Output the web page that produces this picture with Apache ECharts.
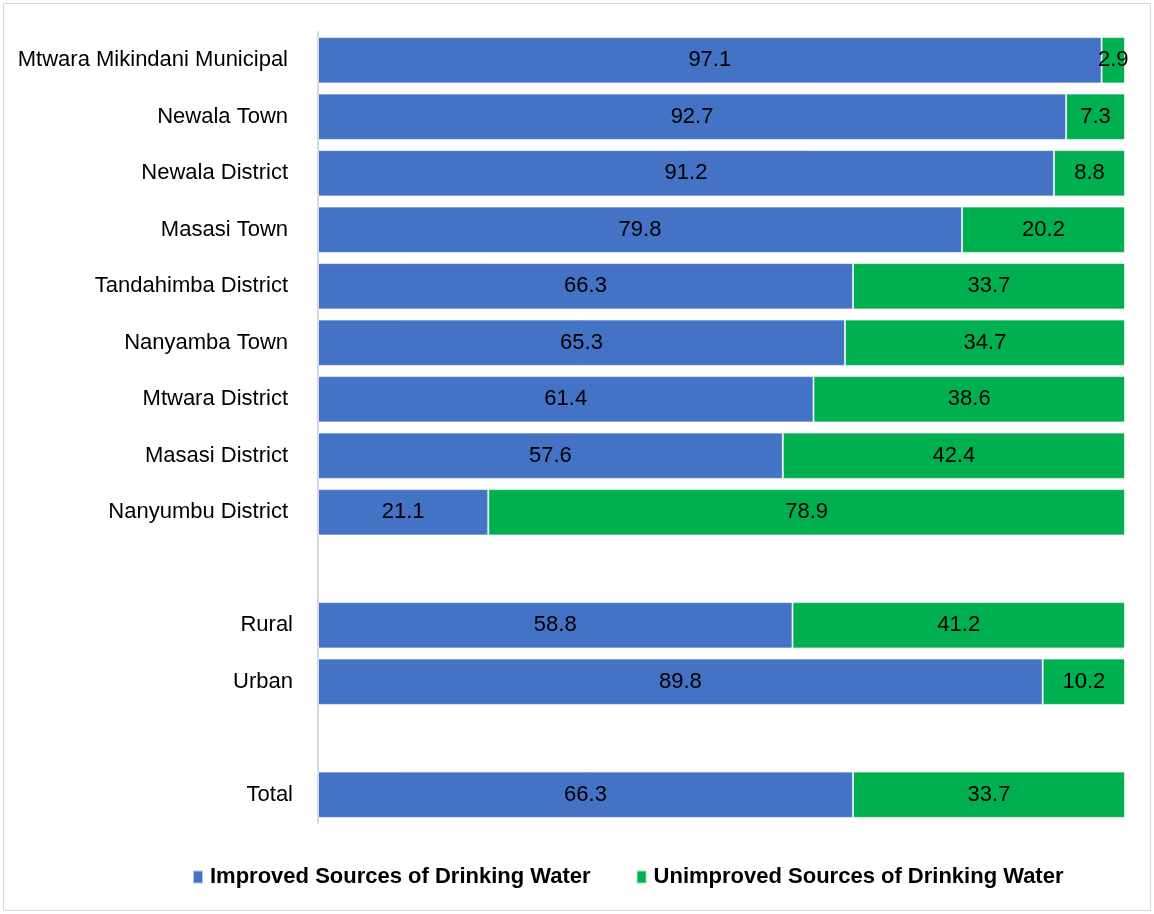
<!DOCTYPE html>
<html>
<head>
<meta charset="utf-8">
<script src="https://cdn.jsdelivr.net/npm/echarts@6/dist/echarts.min.js"></script>
<style>
  html, body { margin: 0; padding: 0; background: #fff; }
  #chart { width: 1154px; height: 914px; }
</style>
</head>
<body>
<div id="chart"></div>
<script>
// categories top to bottom, blank slots separate the groups
const categories = [
  'Mtwara Mikindani Municipal', 'Newala Town', 'Newala District', 'Masasi Town',
  'Tandahimba District', 'Nanyamba Town', 'Mtwara District', 'Masasi District',
  'Nanyumbu District', ' ', 'Rural', 'Urban', '  ', 'Total'
];
const improved = [97.1, 92.7, 91.2, 79.8, 66.3, 65.3, 61.4, 57.6, 21.1, '-', 58.8, 89.8, '-', 66.3];
const unimproved = [2.9, 7.3, 8.8, 20.2, 33.7, 34.7, 38.6, 42.4, 78.9, '-', 41.2, 10.2, '-', 33.7];
const summaryRows = ['Rural', 'Urban', 'Total'];

const FONT = '"Liberation Sans", Arial, sans-serif';

const chart = echarts.init(document.getElementById('chart'), null, { renderer: 'canvas' });

const labelStyle = {
  show: true,
  position: 'inside',
  color: '#000',
  fontSize: 22,
  fontFamily: FONT,
  formatter: p => p.value.toFixed(1)
};

chart.setOption({
  animation: false,
  graphic: [{
    type: 'rect',
    shape: { x: 3.5, y: 3.5, width: 1147, height: 907 },
    style: { fill: 'none', stroke: '#d9d9d9', lineWidth: 1 }
  }],
  grid: { left: 318, right: 29, top: 32, bottom: 91 },
  legend: {
    bottom: 21,
    left: 187,
    itemWidth: 10,
    itemHeight: 13,
    itemGap: 45,
    icon: 'rect',
    textStyle: { fontSize: 22, fontWeight: 'bold', fontFamily: FONT, color: '#000', padding: [0, 0, 0, 2] },
    data: ['Improved Sources of Drinking Water', 'Unimproved Sources of Drinking Water']
  },
  xAxis: {
    type: 'value', min: 0, max: 100, show: false
  },
  yAxis: {
    type: 'category',
    inverse: true,
    data: categories,
    axisLine: { show: true, lineStyle: { color: '#d9d9d9', width: 2 } },
    axisTick: { show: false },
    axisLabel: {
      color: '#000', fontSize: 22, fontFamily: FONT, margin: 25,
      formatter: v => summaryRows.includes(v) ? v : `{d|${v}}`,
      rich: { d: { fontSize: 22, fontFamily: FONT, color: '#000', padding: [0, 5, 0, 0] } }
    }
  },
  series: [
    {
      name: 'Improved Sources of Drinking Water',
      type: 'bar', stack: 'total', barCategoryGap: '18%',
      itemStyle: { color: '#4472C4', borderColor: 'rgba(255,255,255,0.6)', borderWidth: 1 },
      label: labelStyle,
      data: improved
    },
    {
      name: 'Unimproved Sources of Drinking Water',
      type: 'bar', stack: 'total', barCategoryGap: '18%',
      itemStyle: { color: '#00B050', borderColor: 'rgba(255,255,255,0.6)', borderWidth: 1 },
      label: labelStyle,
      data: unimproved
    }
  ]
});
</script>
</body>
</html>
